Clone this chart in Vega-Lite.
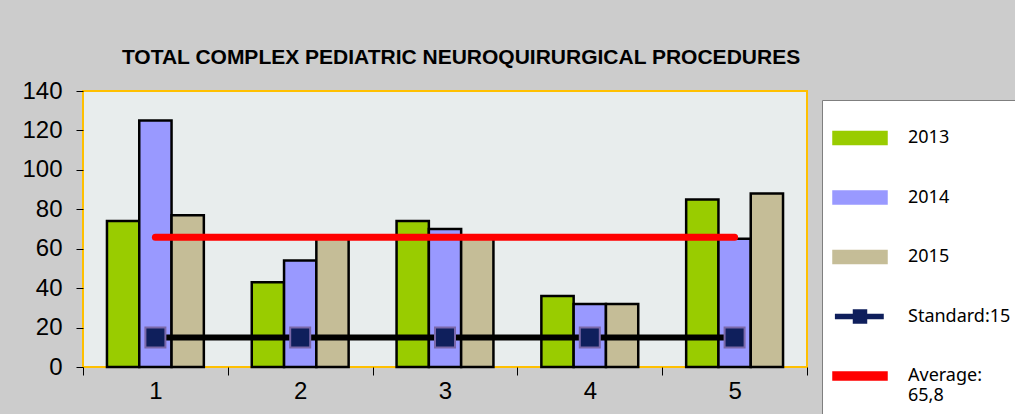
{
  "$schema": "https://vega.github.io/schema/vega-lite/v6.json",
  "autosize": {"type": "none"},
  "width": 724,
  "height": 276,
  "padding": {"left": 83, "top": 91, "right": 208, "bottom": 47},
  "background": "#cccccc",
  "title": {
    "text": "TOTAL COMPLEX PEDIATRIC NEUROQUIRURGICAL PROCEDURES",
    "font": "Liberation Sans",
    "fontSize": 21,
    "fontWeight": "bold",
    "color": "#000000",
    "anchor": "middle",
    "frame": "group",
    "baseline": "alphabetic",
    "offset": -6,
    "dx": 16
  },
  "config": {
    "view": {"fill": "#e8eded", "stroke": "#ffc000", "strokeWidth": 2},
    "axis": {"labelFont": "Liberation Sans", "labelFontSize": 24, "labelColor": "#000000", "tickColor": "#000000", "grid": false, "domain": false, "title": null}
  },
  "data": {
    "values": [
      {"group": "1", "series": "2013", "value": 74},
      {"group": "1", "series": "2014", "value": 125},
      {"group": "1", "series": "2015", "value": 77},
      {"group": "2", "series": "2013", "value": 43},
      {"group": "2", "series": "2014", "value": 54},
      {"group": "2", "series": "2015", "value": 66},
      {"group": "3", "series": "2013", "value": 74},
      {"group": "3", "series": "2014", "value": 70},
      {"group": "3", "series": "2015", "value": 66},
      {"group": "4", "series": "2013", "value": 36},
      {"group": "4", "series": "2014", "value": 32},
      {"group": "4", "series": "2015", "value": 32},
      {"group": "5", "series": "2013", "value": 85},
      {"group": "5", "series": "2014", "value": 65},
      {"group": "5", "series": "2015", "value": 88},
      {"group": "1", "series": "Standard:15", "value": 15},
      {"group": "2", "series": "Standard:15", "value": 15},
      {"group": "3", "series": "Standard:15", "value": 15},
      {"group": "4", "series": "Standard:15", "value": 15},
      {"group": "5", "series": "Standard:15", "value": 15},
      {"group": "1", "series": "Average: 65,8", "value": 65.8},
      {"group": "2", "series": "Average: 65,8", "value": 65.8},
      {"group": "3", "series": "Average: 65,8", "value": 65.8},
      {"group": "4", "series": "Average: 65,8", "value": 65.8},
      {"group": "5", "series": "Average: 65,8", "value": 65.8}
    ]
  },
  "encoding": {
    "x": {
      "field": "group", "type": "ordinal",
      "scale": {"paddingInner": 0, "paddingOuter": 0},
      "axis": {"labelAngle": 0, "tickBand": "extent", "tickSize": 8, "labelPadding": 4}
    },
    "y": {
      "field": "value", "type": "quantitative",
      "scale": {"domain": [0, 140], "nice": false},
      "axis": {"values": [0, 20, 40, 60, 80, 100, 120, 140], "tickSize": 7, "labelPadding": 14}
    }
  },
  "layer": [
    {
      "transform": [{"filter": "datum.group === '1'"}],
      "mark": {"type": "point", "filled": true, "opacity": 0, "stroke": "#000000", "strokeWidth": 2.5},
      "encoding": {
        "color": {
          "field": "series", "type": "nominal",
          "scale": {
            "domain": ["2013", "2014", "2015", "Standard:15", "Average: 65,8"],
            "range": ["#99cc00", "#9999ff", "#c5bd97", "#0f1f5c", "#ff0000"]
          },
          "legend": {
            "orient": "none",
            "legendX": 739,
            "legendY": 9,
            "title": null,
            "direction": "vertical",
            "fillColor": "#ffffff",
            "strokeColor": "#7f7f7f",
            "padding": 10,
            "symbolSize": 2809,
            "symbolStrokeWidth": 2.5,
            "symbolStrokeColor": "#000000",
            "symbolOpacity": 1,
            "labelFont": "Noto Sans",
            "labelFontSize": 18,
            "labelColor": "#000000",
            "labelOffset": 20,
            "rowPadding": 20.5,
            "labelExpr": "datum.label === 'Average: 65,8' ? ['Average:', '65,8'] : datum.label"
          }
        },
        "shape": {
          "field": "series", "type": "nominal",
          "scale": {
            "domain": ["2013", "2014", "2015", "Standard:15", "Average: 65,8"],
            "range": [
              "M-1,-0.226H1V0.226H-1Z",
              "M-1,-0.226H1V0.226H-1Z",
              "M-1,-0.226H1V0.226H-1Z",
              "M-0.9,-0.06H-0.226V0.06H-0.9Z M0.226,-0.06H0.85V0.06H0.226Z M-0.226,-0.226H0.226V0.226H-0.226Z",
              "M-1,-0.13H1V0.13H-1Z"
            ]
          }
        },
        "stroke": {
          "field": "series", "type": "nominal",
          "scale": {
            "domain": ["2013", "2014", "2015", "Standard:15", "Average: 65,8"],
            "range": ["#000000", "#000000", "#000000", "#000000", "#ff0000"]
          }
        }
      }
    },
    {
      "transform": [{"filter": "datum.series === '2013' || datum.series === '2014' || datum.series === '2015'"}],
      "mark": {"type": "bar", "stroke": "#000000", "strokeWidth": 2.5, "opacity": 1},
      "encoding": {
        "xOffset": {"field": "series", "type": "nominal", "scale": {"paddingInner": 0, "paddingOuter": 0.742}},
        "color": {"field": "series", "type": "nominal"}
      }
    },
    {
      "transform": [{"filter": "datum.series === 'Average: 65,8'"}],
      "mark": {"type": "line", "strokeWidth": 7, "strokeCap": "round"},
      "encoding": {
        "color": {"field": "series", "type": "nominal", "legend": null}
      }
    },
    {
      "transform": [{"filter": "datum.series === 'Standard:15'"}],
      "mark": {"type": "line", "strokeWidth": 6, "color": "#000000"}
    },
    {
      "transform": [{"filter": "datum.series === 'Standard:15'"}],
      "mark": {"type": "point", "shape": "square", "filled": true, "fill": "#0f1f5c", "stroke": "#7a68a8", "strokeWidth": 2, "size": 400, "opacity": 1}
    }
  ]
}
